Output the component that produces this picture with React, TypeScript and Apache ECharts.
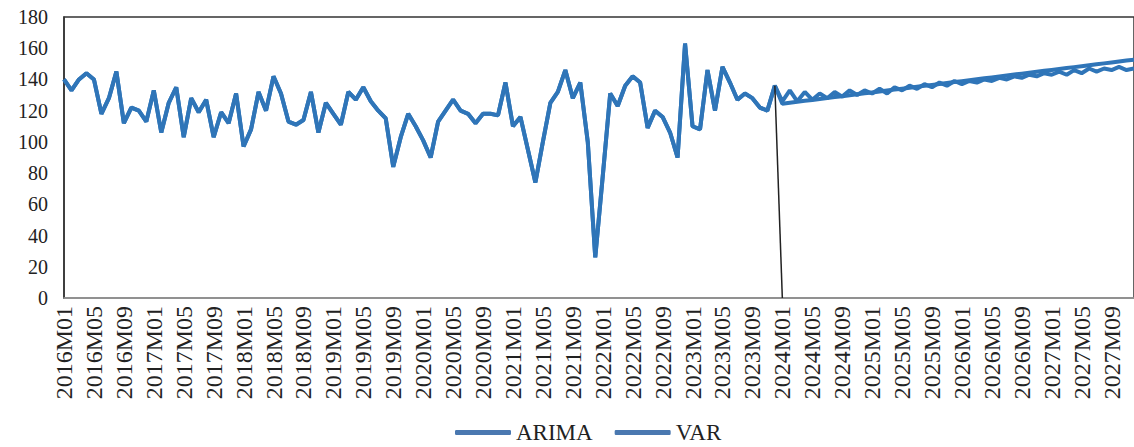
import React, { useEffect, useRef } from "react";
import * as echarts from "echarts";

const years = [2016, 2017, 2018, 2019, 2020, 2021, 2022, 2023, 2024, 2025, 2026, 2027];
const months = ["01", "02", "03", "04", "05", "06", "07", "08", "09", "10", "11", "12"];
const categories: string[] = [];
years.forEach((y) => months.forEach((m) => categories.push(`${y}M${m}`)));

// Observed data 2016M01 - 2023M12
const history = [
  140, 133, 140, 144, 140, 118, 128, 145, 112, 122, 120, 113,
  133, 106, 125, 135, 103, 128, 119, 127, 103, 119, 112, 131,
  97, 108, 132, 120, 142, 131, 113, 111, 114, 132, 106, 125,
  118, 111, 132, 127, 135, 126, 120, 115, 84, 103, 118, 110,
  101, 90, 113, 120, 127, 120, 118, 112, 118, 118, 117, 138,
  110, 116, 95, 74, 100, 125, 132, 146, 128, 138, 100, 26,
  78, 131, 123, 136, 142, 138, 109, 120, 116, 106, 90, 163,
  110, 108, 146, 120, 148, 138, 127, 131, 128, 122, 120, 136,
];

// Forecasts 2024M01 - 2027M12
const arimaForecast = [
  126, 133, 126, 132, 127, 131, 128, 132, 129, 133, 130, 133,
  131, 134, 131, 135, 133, 136, 134, 137, 135, 138, 136, 139,
  137, 139, 138, 140, 139, 141, 140, 142, 141, 143, 142, 144,
  143, 145, 143, 146, 144, 147, 145, 147, 146, 148, 146, 147,
];
const varForecast = [
  124.5, 125.1, 125.7, 126.3, 126.9, 127.5, 128.1, 128.7, 129.3, 129.9, 130.5, 131.1,
  131.7, 132.3, 132.9, 133.5, 134.1, 134.7, 135.3, 135.9, 136.5, 137.1, 137.7, 138.3,
  138.9, 139.5, 140.1, 140.7, 141.3, 141.9, 142.5, 143.1, 143.7, 144.3, 144.9, 145.5,
  146.1, 146.7, 147.3, 147.9, 148.5, 149.1, 149.7, 150.3, 150.9, 151.5, 152.1, 152.7,
];

const seriesNames = ["ARIMA", "VAR"];
const yTicks = { min: 0, max: 180, interval: 20 };
const splitStart = "2023M12";
const splitEnd = "2024M01";
const splitTop = 136;

const LINE_COLOR = "#2f75b8";
const LEGEND_COLOR = "#4a78b0";
const FONT = "Liberation Serif";

export default function App() {
  const ref = useRef<HTMLDivElement>(null);
  useEffect(() => {
    document.body.style.margin = "0";
    if (!ref.current) return;
    const chart = echarts.init(ref.current, undefined, { renderer: "svg" });
    const arima = [...history, ...arimaForecast];
    const vr = [...history, ...varForecast];
    chart.setOption({
      animation: false,
      backgroundColor: "#ffffff",
      grid: {
        left: 64,
        right: -4,
        top: 17,
        bottom: 149,
        show: true,
        borderColor: "#333333",
        borderWidth: 1.5,
        backgroundColor: "transparent",
      },
      legend: {
        bottom: -2,
        left: 450,
        itemWidth: 56,
        itemHeight: 5,
        itemGap: 22,
        icon: "roundRect",
        textStyle: { fontFamily: FONT, fontSize: 23, color: "#222" },
        data: seriesNames.map((n) => ({ name: n, itemStyle: { color: LEGEND_COLOR } })),
      },
      xAxis: {
        type: "category",
        data: categories,
        boundaryGap: false,
        axisLine: { lineStyle: { color: "#a0a0a0", width: 1.5 } },
        axisTick: { show: false },
        axisLabel: {
          interval: 3,
          rotate: 90,
          fontFamily: FONT,
          fontSize: 24,
          color: "#222",
          margin: 8,
        },
        splitLine: { show: false },
      },
      yAxis: {
        type: "value",
        min: yTicks.min,
        max: yTicks.max,
        interval: yTicks.interval,
        axisLine: { show: true, lineStyle: { color: "#333", width: 1.5 } },
        axisTick: { show: false },
        splitLine: { show: false },
        axisLabel: { fontFamily: FONT, fontSize: 20, color: "#222", margin: 16 },
      },
      series: [
        {
          name: seriesNames[0],
          type: "line",
          data: arima,
          symbol: "none",
          lineStyle: { color: LINE_COLOR, width: 4 },
          itemStyle: { color: LINE_COLOR },
          markLine: {
            silent: true,
            symbol: "none",
            label: { show: false },
            lineStyle: { color: "#222", width: 1.5, type: "solid" },
            data: [[{ coord: [splitStart, splitTop] }, { coord: [splitEnd, 0] }]],
          },
        },
        {
          name: seriesNames[1],
          type: "line",
          data: vr,
          symbol: "none",
          lineStyle: { color: LINE_COLOR, width: 4 },
          itemStyle: { color: LINE_COLOR },
        },
      ],
    });
    return () => chart.dispose();
  }, []);
  return <div ref={ref} style={{ width: 1134, height: 447 }} />;
}
